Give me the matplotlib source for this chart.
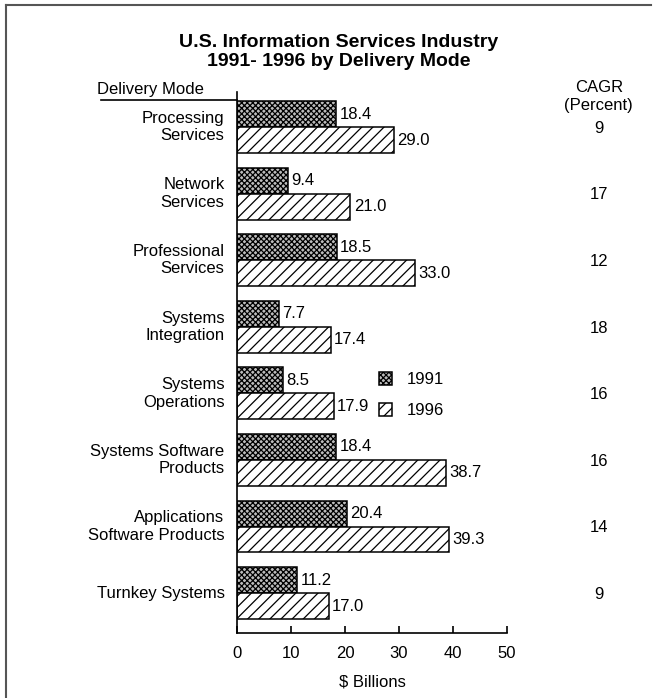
import matplotlib
matplotlib.use("Agg")
import matplotlib.pyplot as plt
from matplotlib.lines import Line2D
from matplotlib.patches import Patch
import numpy as np

plt.rcParams['font.family'] = ['Liberation Sans', 'DejaVu Sans']
plt.rcParams['hatch.linewidth'] = 0.9

categories = [
    "Processing\nServices",
    "Network\nServices",
    "Professional\nServices",
    "Systems\nIntegration",
    "Systems\nOperations",
    "Systems Software\nProducts",
    "Applications\nSoftware Products",
    "Turnkey Systems",
]
values_1991 = [18.4, 9.4, 18.5, 7.7, 8.5, 18.4, 20.4, 11.2]
values_1996 = [29.0, 21.0, 33.0, 17.4, 17.9, 38.7, 39.3, 17.0]
cagr = [9, 17, 12, 18, 16, 16, 14, 9]
series_labels = ["1991", "1996"]
x_ticks = [0, 10, 20, 30, 40, 50]

FS = 12
C91 = "#bcbcbc"
H91 = "xxxxxx"
H96 = "///"

fig = plt.figure(figsize=(6.58, 6.98), dpi=100)
ax = fig.add_axes([0.3602, 0.0931, 0.4103, 0.7749])

y = np.arange(len(categories))
h = 0.39
ax.barh(y - h / 2, values_1991, height=h, facecolor=C91,
        edgecolor="black", linewidth=1.1, hatch=H91)
ax.barh(y + h / 2, values_1996, height=h, facecolor="white",
        edgecolor="black", linewidth=1.1, hatch=H96)

for yi, v in zip(y - h / 2, values_1991):
    ax.text(v + 0.6, yi, f"{v:.1f}", va="center", ha="left", fontsize=FS)
for yi, v in zip(y + h / 2, values_1996):
    ax.text(v + 0.6, yi, f"{v:.1f}", va="center", ha="left", fontsize=FS)

ax.set_xlim(0, 50)
ax.set_ylim(len(categories) - 1 + 0.6, -0.525)
ax.set_xticks(x_ticks)
ax.tick_params(axis="x", direction="in", length=5, width=1.2, labelsize=FS, pad=9)
ax.set_yticks([])
ax.spines["top"].set_visible(False)
ax.spines["right"].set_visible(False)
ax.spines["left"].set_linewidth(1.2)
ax.spines["bottom"].set_linewidth(1.2)
ax.set_xlabel("$ Billions", fontsize=FS, labelpad=10)

# category labels to the left of the axis
for yi, lab in zip(y, categories):
    ax.annotate(lab, xy=(0, yi), xycoords=("axes fraction", "data"),
                xytext=(-9, 0), textcoords="offset points",
                ha="right", va="center", fontsize=FS, multialignment="right",
                linespacing=1.2)

# CAGR column
cagr_x = 0.91
for yi, c in zip(y, cagr):
    ax.annotate(str(c), xy=(0, yi + 0.02), xycoords=("figure fraction", "data"),
                xytext=(cagr_x * fig.bbox.width, 0), textcoords="offset pixels",
                ha="center", va="center", fontsize=FS)

fig.text(cagr_x, 0.862, "CAGR\n(Percent)", ha="center", va="center",
         fontsize=FS, linespacing=1.2)
fig.text(0.228, 0.872, "Delivery Mode", ha="center", va="center", fontsize=FS)
fig.add_artist(Line2D([0.153, 0.3602], [0.857, 0.857], color="black",
                      linewidth=1.2, transform=fig.transFigure))

fig.text(0.515, 0.925, "U.S. Information Services Industry\n1991- 1996 by Delivery Mode",
         ha="center", va="center", fontsize=14, fontweight="bold", linespacing=1.15)

# legend
handles = [Patch(facecolor=C91, edgecolor="black", hatch=H91, linewidth=1.1),
           Patch(facecolor="white", edgecolor="black", hatch=H96, linewidth=1.1)]
ax.legend(handles, series_labels, loc="center left", bbox_to_anchor=(0.47, 0.44),
          frameon=False, fontsize=FS, handlelength=0.8, handleheight=0.8,
          labelspacing=0.95, handletextpad=0.9)

# frame lines along the top and left of the figure
fig.add_artist(Line2D([0.009, 0.99], [0.993, 0.993], color="#555555",
                      linewidth=1.5, transform=fig.transFigure))
fig.add_artist(Line2D([0.009, 0.009], [0.0, 0.993], color="#555555",
                      linewidth=1.5, transform=fig.transFigure))

fig.savefig("out.png", dpi=100, facecolor="white")
